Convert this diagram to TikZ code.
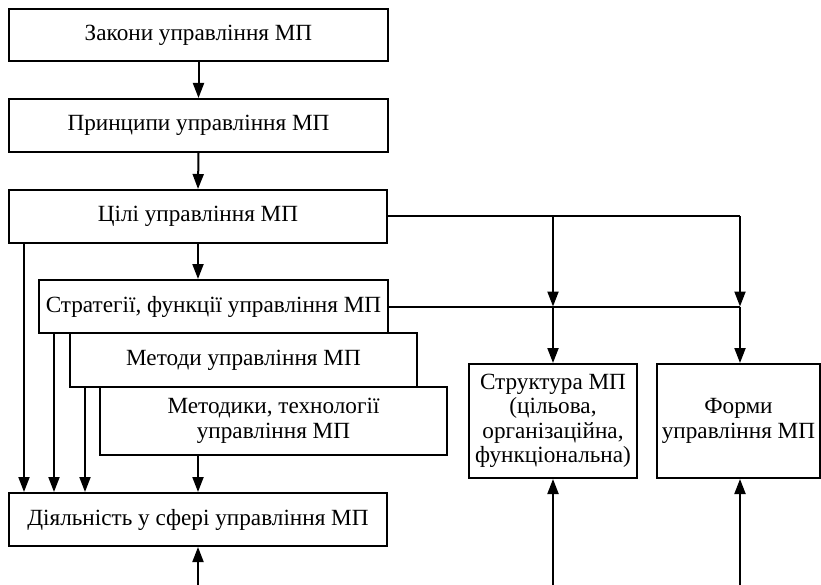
\documentclass[tikz,border=0pt]{standalone}
\usepackage{fontspec}
\setmainfont{Liberation Serif}
\usetikzlibrary{arrows.meta,calc}

\tikzset{
  box/.style={draw, line width=2pt, fill=white, inner sep=0pt, align=center,
              font=\fontsize{23.2}{24.5}\selectfont},
  link/.style={line width=2pt},
  arr/.style={line width=2pt, -{Triangle[length=15pt,width=11pt]}},
}

\begin{document}
\begin{tikzpicture}[x=1pt,y=-1pt]
\useasboundingbox (0,0) rectangle (821,585);

% main vertical chain
\node[box, minimum width=379pt, minimum height=52pt] (laws)  at (198.5,35)   {Закони управління МП};
\node[box, minimum width=379pt, minimum height=53pt] (princ) at (198.5,125.5) {Принципи управління МП};
\node[box, minimum width=378pt, minimum height=53pt] (goals) at (198,216.5)   {Цілі управління МП};
\node[box, minimum width=349pt, minimum height=53pt] (strat) at (213.5,306.5) {Стратегії, функції управління МП};
\node[box, minimum width=347pt, minimum height=54pt] (meth)  at (243.5,360)   {Методи управління МП};
\node[box, minimum width=347pt, minimum height=68pt] (tech)  at (273.5,421)   {Методики, технології\\управління МП};
\node[box, minimum width=378pt, minimum height=53pt] (act)   at (198,519.5)   {Діяльність у сфері управління МП};

% right-hand boxes
\node[box, minimum width=168pt, minimum height=114pt] (struct) at (553,421)
  {Структура МП\\(цільова,\\організаційна,\\функціональна)};
\node[box, minimum width=163pt, minimum height=114pt] (forms) at (738.5,421)
  {Форми\\управління МП};

% column positions
\coordinate (xa) at (24,0);
\coordinate (xb) at (54,0);
\coordinate (xc) at (85,0);
\coordinate (xs) at (553,0);
\coordinate (xf) at (740,0);
\coordinate (bot) at (0,585);

% chain arrows
\draw[arr] (laws.south) -- (princ.north);
\draw[arr] (princ.south) -- (goals.north);
\draw[arr] (goals.south) -- (goals.south |- strat.north);
\draw[arr] (tech.south -| goals.south) -- (act.north);
\draw[arr] (bot -| act.south) -- (act.south);

% side feeds into the activity box
\draw[arr] (goals.south -| xa) -- (act.north -| xa);
\draw[arr] (strat.south -| xb) -- (act.north -| xb);
\draw[arr] (meth.south -| xc) -- (act.north -| xc);

% branches from goals and strategies
\draw[link] (goals.east) -- (goals.east -| xf);
\draw[link] (strat.east) -- (strat.east -| xf);
\draw[arr] (goals.east -| xs) -- (strat.east -| xs);
\draw[arr] (goals.east -| xf) -- (strat.east -| xf);
\draw[arr] (strat.east -| xs) -- (struct.north -| xs);
\draw[arr] (strat.east -| xf) -- (forms.north -| xf);

% inputs from below
\draw[arr] (bot -| xs) -- (struct.south -| xs);
\draw[arr] (bot -| xf) -- (forms.south -| xf);
\end{tikzpicture}
\end{document}
